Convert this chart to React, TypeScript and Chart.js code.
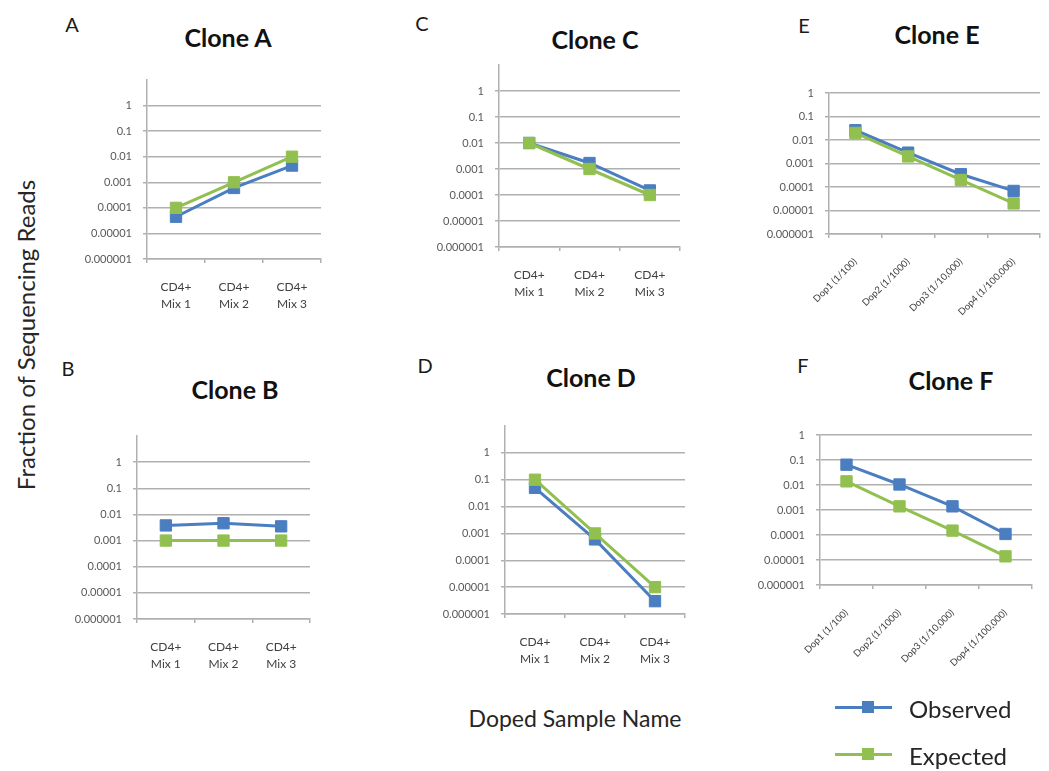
import React, { useEffect, useRef } from 'react';
import { Chart, registerables } from 'chart.js';

Chart.register(...registerables);

// ---------- data ----------
const mixCategories: string[][] = [['CD4+', 'Mix 1'], ['CD4+', 'Mix 2'], ['CD4+', 'Mix 3']];
const dopCategories: string[] = ['Dop1 (1/100)', 'Dop2 (1/1000)', 'Dop3 (1/10,000)', 'Dop4 (1/100,000)'];
const yTickValues: number[] = [1e-6, 1e-5, 1e-4, 1e-3, 1e-2, 1e-1, 1];
const yTickLabels: string[] = ['0.000001', '0.00001', '0.0001', '0.001', '0.01', '0.1', '1'];

const cloneAObserved: number[] = [4.5e-5, 6e-4, 4.5e-3];
const cloneAExpected: number[] = [1e-4, 1e-3, 1e-2];
const cloneBObserved: number[] = [3.8e-3, 4.6e-3, 3.5e-3];
const cloneBExpected: number[] = [1e-3, 1e-3, 1e-3];
const cloneCObserved: number[] = [1e-2, 1.7e-3, 1.5e-4];
const cloneCExpected: number[] = [1e-2, 1e-3, 1e-4];
const cloneDObserved: number[] = [5e-2, 6e-4, 3e-6];
const cloneDExpected: number[] = [1e-1, 1e-3, 1e-5];
const cloneEObserved: number[] = [2.6e-2, 2.9e-3, 3.5e-4, 6.8e-5];
const cloneEExpected: number[] = [2e-2, 2e-3, 2e-4, 2e-5];
const cloneFObserved: number[] = [6.5e-2, 1.05e-2, 1.4e-3, 1.1e-4];
const cloneFExpected: number[] = [1.4e-2, 1.4e-3, 1.5e-4, 1.4e-5];

const seriesNames = ['Observed', 'Expected'];

// ---------- styles ----------
const BLUE = '#4A7EC0';
const GREEN = '#92C050';
const GRID = '#b0b0b0';
const FONT = 'Lato, "Open Sans", sans-serif';

type PanelProps = {
  left: number; top: number; right: number; bottom: number;
  max: number;
  labels: (string | string[])[];
  observed: number[];
  expected: number[];
  rotated?: boolean;
  padRight?: number;
};

const Y_W = 85;
const PAD_TOP = 6;

function Panel(p: PanelProps) {
  const ref = useRef<HTMLCanvasElement | null>(null);
  const padRight = p.padRight ?? 6;
  const xH = p.rotated ? 110 : 60;
  const W = p.right - p.left + Y_W + padRight;
  const H = p.bottom - p.top + PAD_TOP + xH;

  useEffect(() => {
    if (!ref.current) return;
    const chart = new Chart(ref.current, {
      type: 'line',
      data: {
        labels: p.labels,
        datasets: [
          {
            label: seriesNames[0], data: p.observed, borderColor: BLUE, backgroundColor: BLUE,
            borderWidth: 3, pointStyle: 'rect', pointRadius: 8, pointBorderWidth: 1,
            pointBorderColor: BLUE, pointBackgroundColor: BLUE, tension: 0, order: 1, clip: false,
          },
          {
            label: seriesNames[1], data: p.expected, borderColor: GREEN, backgroundColor: GREEN,
            borderWidth: 3, pointStyle: 'rect', pointRadius: 8, pointBorderWidth: 1,
            pointBorderColor: GREEN, pointBackgroundColor: GREEN, tension: 0, order: 0, clip: false,
          },
        ],
      },
      options: {
        responsive: false,
        animation: false,
        events: [],
        layout: { padding: { top: PAD_TOP, right: padRight, left: 0, bottom: 0 } },
        plugins: { legend: { display: false }, tooltip: { enabled: false } },
        scales: {
          x: {
            type: 'category',
            offset: true,
            grid: { offset: true, drawOnChartArea: false, drawTicks: true, tickLength: 4, color: GRID, lineWidth: 1.5 },
            border: { display: true, color: GRID, width: 1.5 },
            ticks: p.rotated
              ? { autoSkip: false, minRotation: 45, maxRotation: 45, padding: 18, color: '#404040', font: { family: FONT, size: 9.5 } }
              : { autoSkip: false, maxRotation: 0, padding: 15, color: '#404040', font: { family: FONT, size: 12, lineHeight: 1.45 } },
            afterFit: (s: any) => { s.height = xH; s.paddingLeft = 0; s.paddingRight = 0; },
          },
          y: {
            type: 'logarithmic',
            min: 1e-6,
            max: p.max,
            afterBuildTicks: (s: any) => { s.ticks = yTickValues.map((v) => ({ value: v })); },
            grid: { drawOnChartArea: true, drawTicks: true, tickLength: 4, color: GRID, lineWidth: 1.5 },
            border: { display: true, color: GRID, width: 1.5 },
            ticks: {
              padding: 11,
              color: '#595959',
              font: { family: FONT, size: 11 },
              callback: (_v: any, i: number) => yTickLabels[i],
            },
            afterFit: (s: any) => { s.width = Y_W; s.paddingTop = 0; s.paddingBottom = 0; },
          },
        },
      },
    } as any);
    return () => chart.destroy();
  }, []);

  return (
    <canvas
      ref={ref}
      width={W}
      height={H}
      style={{ position: 'absolute', left: p.left - Y_W, top: p.top - PAD_TOP, width: W, height: H }}
    />
  );
}

function Txt(props: { x: number; y: number; size: number; bold?: boolean; color?: string; children: React.ReactNode; align?: 'center' | 'left'; rotate?: boolean }) {
  const tr = props.align === 'left' ? 'translate(0,-50%)' : props.rotate ? 'translate(-50%,-50%) rotate(-90deg)' : 'translate(-50%,-50%)';
  return (
    <div
      style={{
        position: 'absolute', left: props.x, top: props.y, transform: tr, whiteSpace: 'nowrap',
        fontFamily: FONT, fontSize: props.size, lineHeight: 1, fontWeight: props.bold ? 700 : 400,
        color: props.color ?? '#1a1a1a',
      }}
    >
      {props.children}
    </div>
  );
}

function LegendRow(props: { y: number; color: string; label: string }) {
  return (
    <>
      <div style={{ position: 'absolute', left: 835, top: props.y - 1.5, width: 57, height: 3, background: props.color }} />
      <div style={{ position: 'absolute', left: 862, top: props.y - 6, width: 12, height: 12, background: props.color }} />
      <Txt x={909} y={props.y + 2} size={24} align="left" color="#262626">{props.label}</Txt>
    </>
  );
}

export default function App() {
  useEffect(() => {
    document.body.style.overflow = 'hidden';
  }, []);
  return (
    <div style={{ position: 'absolute', left: 0, top: 0, width: 1049, height: 771, background: '#fff', overflow: 'hidden' }}>
      <Txt x={26} y={335} size={24} rotate color="#262626">Fraction of Sequencing Reads</Txt>
      <Txt x={575} y={718} size={23} color="#262626">Doped Sample Name</Txt>

      <Txt x={72} y={24} size={20}>A</Txt>
      <Txt x={422} y={23} size={20}>C</Txt>
      <Txt x={804} y={25} size={20}>E</Txt>
      <Txt x={68} y={368} size={20}>B</Txt>
      <Txt x={425} y={365} size={20}>D</Txt>
      <Txt x={803} y={365} size={20}>F</Txt>

      <Txt x={228} y={37} size={25} bold color="#111">Clone A</Txt>
      <Txt x={595} y={39} size={25} bold color="#111">Clone C</Txt>
      <Txt x={937} y={34} size={25} bold color="#111">Clone E</Txt>
      <Txt x={235} y={389} size={25} bold color="#111">Clone B</Txt>
      <Txt x={591} y={377} size={25} bold color="#111">Clone D</Txt>
      <Txt x={951} y={380} size={25} bold color="#111">Clone F</Txt>

      <Panel left={147} top={77} right={324} bottom={259} max={10} labels={mixCategories} observed={cloneAObserved} expected={cloneAExpected} />
      <Panel left={499} top={62} right={683} bottom={247} max={10} labels={mixCategories} observed={cloneCObserved} expected={cloneCExpected} />
      <Panel left={829} top={90} right={1049} bottom={234} max={1} labels={dopCategories} observed={cloneEObserved} expected={cloneEExpected} rotated padRight={0} />
      <Panel left={137} top={433} right={313} bottom={619} max={10} labels={mixCategories} observed={cloneBObserved} expected={cloneBExpected} />
      <Panel left={505} top={423} right={688} bottom={614} max={10} labels={mixCategories} observed={cloneDObserved} expected={cloneDExpected} />
      <Panel left={820} top={432} right={1035} bottom={585} max={1} labels={dopCategories} observed={cloneFObserved} expected={cloneFExpected} rotated />

      <LegendRow y={707} color={BLUE} label={seriesNames[0]} />
      <LegendRow y={754} color={GREEN} label={seriesNames[1]} />
    </div>
  );
}
